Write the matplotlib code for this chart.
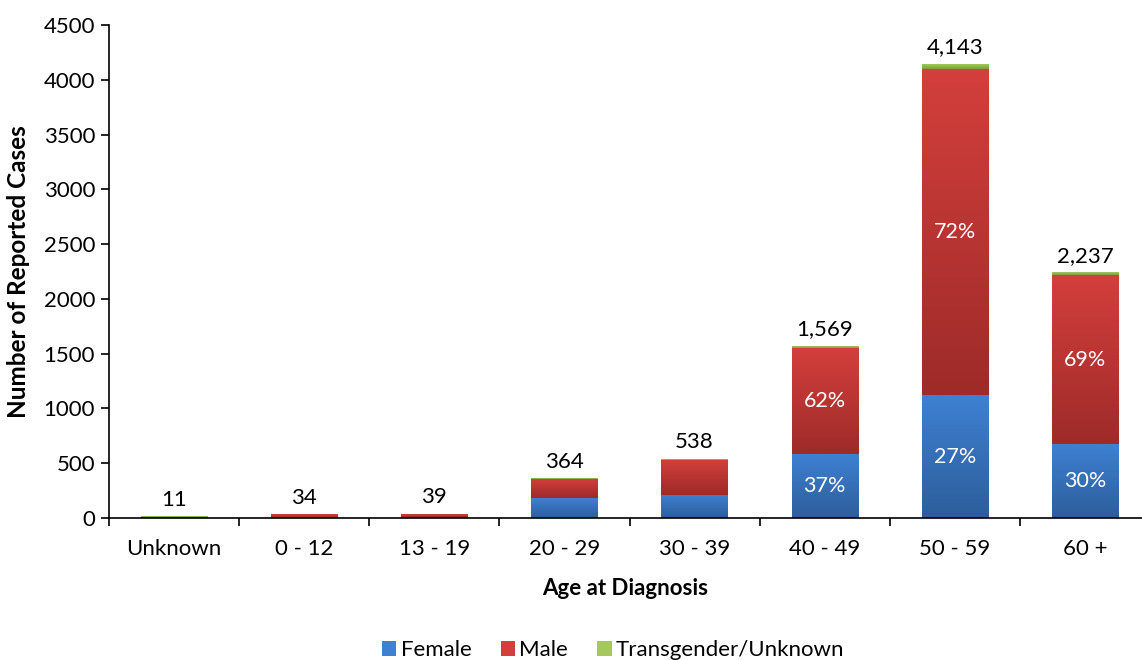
import numpy as np
import matplotlib
matplotlib.use("Agg")
import matplotlib.pyplot as plt
from matplotlib.colors import LinearSegmentedColormap
from matplotlib.patches import Patch

plt.rcParams["font.family"] = ["Lato", "DejaVu Sans"]

# ── data ───────────────────────────────────────────────────────────────────
AGE_GROUPS = ["Unknown", "0 - 12", "13 - 19", "20 - 29", "30 - 39", "40 - 49", "50 - 59", "60 +"]
TOTALS = [11, 34, 39, 364, 538, 1569, 4143, 2237]
FEMALE = [2, 3, 12, 180, 210, 580, 1119, 671]
MALE = [4, 31, 27, 178, 320, 973, 2983, 1544]
TRANS = [5, 0, 0, 6, 8, 16, 41, 22]
FEMALE_PCT = [None, None, None, None, None, "37%", "27%", "30%"]
MALE_PCT = [None, None, None, None, None, "62%", "72%", "69%"]

# (top colour, bottom colour) for the vertical gradient of each series
SERIES = [
    ("Female", FEMALE, ("#3e80d2", "#2d5e9b")),
    ("Male", MALE, ("#d33f3c", "#9e2b29")),
    ("Transgender/Unknown", TRANS, ("#a4c85c", "#7f9f3f")),
]

BAR_W = 0.51
FS = 16

fig = plt.figure(figsize=(11.42, 6.6), dpi=100)
ax = fig.add_axes([109 / 1142, 142 / 660, (1142 - 109) / 1142, 493 / 660])

x = np.arange(len(AGE_GROUPS))
bottom = np.zeros(len(AGE_GROUPS))
for name, vals, (c_top, c_bot) in SERIES:
    vals = np.array(vals, dtype=float)
    cmap = LinearSegmentedColormap.from_list(name, [c_bot, c_top])
    grad = np.linspace(0, 1, 64).reshape(-1, 1)
    for xi, b, v in zip(x, bottom, vals):
        if v <= 0:
            continue
        ax.imshow(grad, cmap=cmap, origin="lower", aspect="auto",
                  extent=(xi - BAR_W / 2, xi + BAR_W / 2, b, b + v),
                  interpolation="bilinear", zorder=2)
    bottom += vals

# percentage labels inside the large bars
fb = np.zeros(len(AGE_GROUPS))
for vals, labels in [(FEMALE, FEMALE_PCT), (MALE, MALE_PCT)]:
    for xi, b, v, lab in zip(x, fb, vals, labels):
        if lab:
            ax.text(xi, b + v / 2, lab, ha="center", va="center",
                    color="white", fontsize=15.5, zorder=4)
    fb += np.array(vals)

# totals above bars
for xi, t in zip(x, TOTALS):
    ax.text(xi, t + 60, f"{t:,}", ha="center", va="bottom",
            color="black", fontsize=FS, zorder=4)

ax.set_xlim(-0.5, 7.5 - 8 / 130)
ax.set_ylim(0, 4500)
ax.set_yticks(np.arange(0, 4501, 500))
ax.set_xticks(x)
ax.set_xticklabels(AGE_GROUPS)
ax.set_xticks(np.arange(-0.5, 7.5, 1), minor=True)
ax.tick_params(axis="x", which="major", length=0, pad=15, labelsize=FS)
ax.tick_params(axis="x", which="minor", length=6, direction="out", width=1.2)
ax.tick_params(axis="y", length=6, direction="out", width=1.2, labelsize=FS, pad=4)

for s in ["top", "right"]:
    ax.spines[s].set_visible(False)
ax.spines["left"].set_linewidth(1.2)
ax.spines["bottom"].set_linewidth(1.2)

ax.set_ylabel("Number of Reported Cases", fontsize=17.5, fontweight="bold", labelpad=10)
ax.set_xlabel("Age at Diagnosis", fontsize=16, fontweight="bold", labelpad=14)

handles = [Patch(facecolor=c[0], label=n) for n, _, c in SERIES]
fig.legend(handles=handles, loc="center", bbox_to_anchor=(0.537, 1 - 650 / 660),
           ncol=3, frameon=False, fontsize=FS, handlelength=0.65, handleheight=0.65,
           handletextpad=0.2, columnspacing=1.3)

fig.savefig("out.png", dpi=100)
